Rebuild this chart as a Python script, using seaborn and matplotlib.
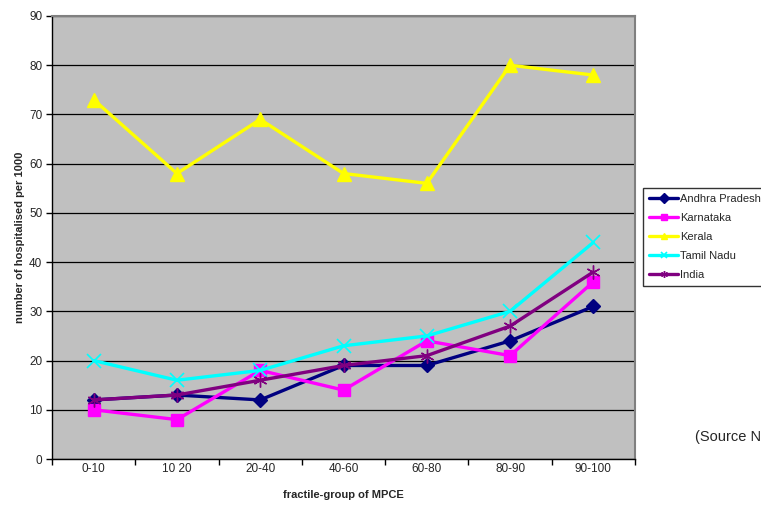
import matplotlib
matplotlib.use("Agg")
import matplotlib.pyplot as plt
import seaborn as sns
import pandas as pd
from matplotlib.ticker import FixedLocator, NullFormatter

categories = ["0-10", "10 20", "20-40", "40-60", "60-80", "80-90", "90-100"]
andhra = [12, 13, 12, 19, 19, 24, 31]
karnataka = [10, 8, 18, 14, 24, 21, 36]
kerala = [73, 58, 69, 58, 56, 80, 78]
tamil = [20, 16, 18, 23, 25, 30, 44]
india = [12, 13, 16, 19, 21, 27, 38]
series_names = ["Andhra Pradesh", "Karnataka", "Kerala", "Tamil Nadu", "India"]
series_values = [andhra, karnataka, kerala, tamil, india]
y_ticks = [0, 10, 20, 30, 40, 50, 60, 70, 80, 90]

colors = ["#000080", "#FF00FF", "#FFFF00", "#00FFFF", "#800080"]
markers = ["D", "s", "^", "x", (6, 2, 0)]
msizes = [7, 8.5, 9.5, 9.5, 10]
mew = [1, 1, 1, 1.2, 1.0]

rows = []
for name, vals in zip(series_names, series_values):
    for c, v in zip(categories, vals):
        rows.append({"group": c, "value": v, "state": name})
df = pd.DataFrame(rows)

sns.set_style("white")
plt.rcParams["font.family"] = ["Liberation Sans", "DejaVu Sans"]

fig = plt.figure(figsize=(7.61, 5.05), dpi=100)
ax = fig.add_axes([52 / 761, 1 - 459 / 505, (635 - 52) / 761, (459 - 16) / 505])
ax.set_facecolor("#C0C0C0")

for name, col, mk, ms, mw in zip(series_names, colors, markers, msizes, mew):
    sub = df[df["state"] == name]
    sns.lineplot(data=sub, x="group", y="value", ax=ax, color=col, marker=mk,
                 markersize=ms, markeredgecolor=col, markerfacecolor=col,
                 markeredgewidth=mw, linewidth=2.4, label=name, sort=False)

ax.set_xlim(-0.5, len(categories) - 0.5)
ax.set_ylim(0, 90)
ax.set_yticks(y_ticks)
ax.set_yticklabels([str(t) for t in y_ticks], fontsize=8.5)
ax.yaxis.grid(True, color="black", linewidth=0.9)
ax.set_axisbelow(True)

ax.xaxis.set_major_locator(FixedLocator([i - 0.5 for i in range(len(categories) + 1)]))
ax.xaxis.set_major_formatter(NullFormatter())
ax.xaxis.set_minor_locator(FixedLocator(list(range(len(categories)))))
ax.set_xticklabels(categories, minor=True, fontsize=8.5)
ax.tick_params(axis="x", which="major", direction="out", length=4, width=1, color="black", bottom=True)
ax.tick_params(axis="x", which="minor", length=0, pad=3)
ax.tick_params(axis="y", direction="out", length=4, width=1, color="black", left=True, pad=3)

for s in ["left", "bottom"]:
    ax.spines[s].set_color("black")
    ax.spines[s].set_linewidth(1)
for s in ["top", "right"]:
    ax.spines[s].set_color("#808080")
    ax.spines[s].set_linewidth(1.5)

ax.set_xlabel("fractile-group of MPCE", fontsize=8, fontweight="bold", labelpad=11)
ax.set_ylabel("number of hospitalised per 1000", fontsize=8, fontweight="bold", labelpad=3)

if ax.get_legend():
    ax.get_legend().remove()
handles, labels = ax.get_legend_handles_labels()
leg = fig.legend(handles, labels, loc="upper left",
                 bbox_to_anchor=(643 / 761, 1 - 188 / 505), frameon=True,
                 fontsize=8, handlelength=2.6, handletextpad=0.15,
                 borderpad=0.55, labelspacing=0.8, fancybox=False,
                 borderaxespad=0)
leg.get_frame().set_edgecolor("black")
leg.get_frame().set_linewidth(1)
for h in leg.legend_handles:
    h.set_markersize(5)

fig.text(695 / 761, 1 - 437 / 505, "(Source N", fontsize=10.5, va="center", ha="left")

fig.savefig("out.png", dpi=100)
